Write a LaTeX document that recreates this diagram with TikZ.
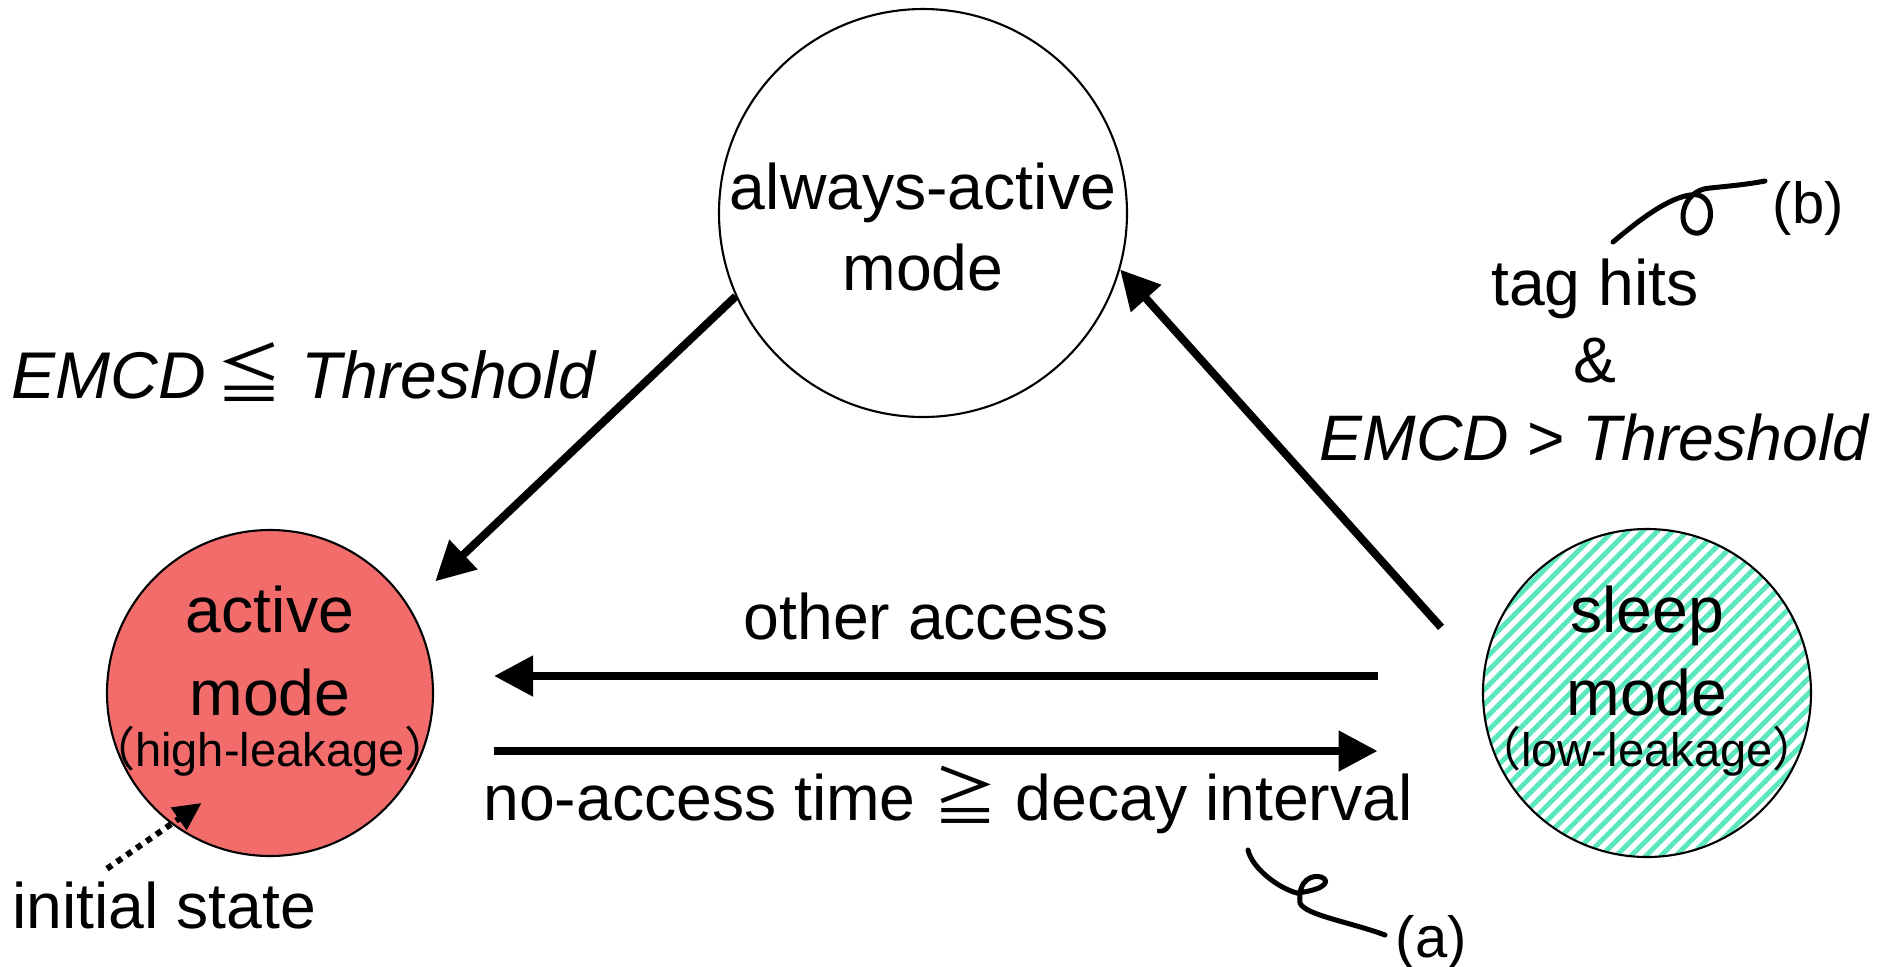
\documentclass[tikz,border=0pt]{standalone}
\usepackage{fontspec}
\setmainfont{Liberation Sans}
\newfontfamily\cjk{Noto Sans CJK JP}
\usetikzlibrary{arrows.meta,patterns.meta}

\definecolor{actred}{RGB}{242,108,108}
\definecolor{sleepgreen}{RGB}{90,230,190}
\newcommand{\leak}[1]{{\fontsize{13.4}{16}\selectfont{\cjk （}#1{\cjk ）}}}

\begin{document}
\begin{tikzpicture}[>/.tip={Triangle[length=3.9mm,width=3.9mm]},
  mode/.style={draw,shape=circle,line width=0.6pt,inner sep=0pt},
  modetext/.style={align=center,inner sep=0pt,font=\fontsize{18.3}{23.6}\selectfont},
  trans/.style={->,line width=0.8mm},
  lbl/.style={font=\fontsize{18.3}{22}\selectfont,inner sep=0pt},
  tag/.style={font=\fontsize{16.5}{20}\selectfont,inner sep=0pt},
  wiggle/.style={line width=0.5mm,line cap=round}]
\useasboundingbox (0,0) rectangle (18.9,-9.66);

\node (alw) at (9.23,-2.13) [mode,minimum size=4.08cm,
  label={[modetext,yshift=-0.14cm,font=\fontsize{18.3}{23}\selectfont]center:{always-active\\mode}}] {};
\node (act) at (2.70,-6.93) [mode,fill=actred,minimum size=3.26cm,
  label={[modetext,yshift=0.12cm]center:{active\\mode\\[-9pt]\leak{high-leakage}}}] {};
\node (slp) at (16.47,-6.93) [mode,minimum size=3.28cm,pattern color=sleepgreen,
  pattern={Lines[angle=45,distance=3pt,line width=1.4pt]},
  label={[modetext,yshift=0.12cm]center:{sleep\\mode\\[-9pt]\leak{low-leakage}}}] {};

\node (cond1) at (3.04,-3.98) [lbl,anchor=base,font=\fontsize{18.8}{22}\selectfont]
  {\textit{EMCD}\,{\cjk ≦} \textit{Threshold}};
\node (cond2) at (15.95,-4.60) [lbl,anchor=base,align=center]
  {tag hits\\\&\\\textit{EMCD} > \textit{Threshold}};
\node (other) at (9.26,-6.39) [lbl,anchor=base] {other access};
\node (noacc) at (9.48,-8.20) [lbl,anchor=base] {no-access time {\cjk ≧} decay interval};
\node (init) at (1.64,-9.28) [lbl,anchor=base] {initial state};
\node (lbla) at (13.95,-9.57) [tag,anchor=base west] {(a)};
\node (lblb) at (17.72,-2.23) [tag,anchor=base west] {(b)};

% transitions
\draw[trans,shorten >=0.36cm] (alw.204) -- (act.32.3);
\draw[trans,shorten <=0.61cm] (slp.173) -- (alw.344);
\draw[trans] ([xshift=-1.03cm,yshift=0.17cm]slp.west) -- ([xshift=0.60cm,yshift=0.17cm]act.east);
\draw[trans] ([xshift=0.60cm,yshift=-0.58cm]act.east) -- ([xshift=-1.03cm,yshift=-0.58cm]slp.west);

% initial state
\draw[-{Triangle[length=2.8mm,width=2.6mm]},line width=0.6mm,dash pattern=on 0.6mm off 0.6mm,
  shorten >=-0.37cm] ([xshift=-0.57cm,yshift=0.12cm]init.north) -- (act.233.3);

% annotations
\coordinate (wa) at (12.48,-8.50);
\draw[wiggle] (wa) .. controls (12.52,-8.68) and (12.78,-8.88) .. (12.97,-8.93)
  .. controls (13.62,-8.85) and (12.95,-8.55) .. (13.00,-9.03)
  .. controls (13.05,-9.15) and (13.50,-9.22) .. ([xshift=-0.1cm,yshift=0.07cm]lbla.west);
\coordinate (wb) at (16.13,-2.42);
\draw[wiggle] (wb) .. controls (16.45,-2.15) and (16.70,-1.98) .. (16.90,-1.95)
  .. controls (17.18,-1.90) and (17.15,-2.36) .. (16.95,-2.33)
  .. controls (16.75,-2.30) and (16.80,-1.90) .. (17.10,-1.88)
  .. controls (17.30,-1.86) and (17.50,-1.84) .. ([xshift=-0.07cm,yshift=0.27cm]lblb.west);
\end{tikzpicture}
\end{document}
